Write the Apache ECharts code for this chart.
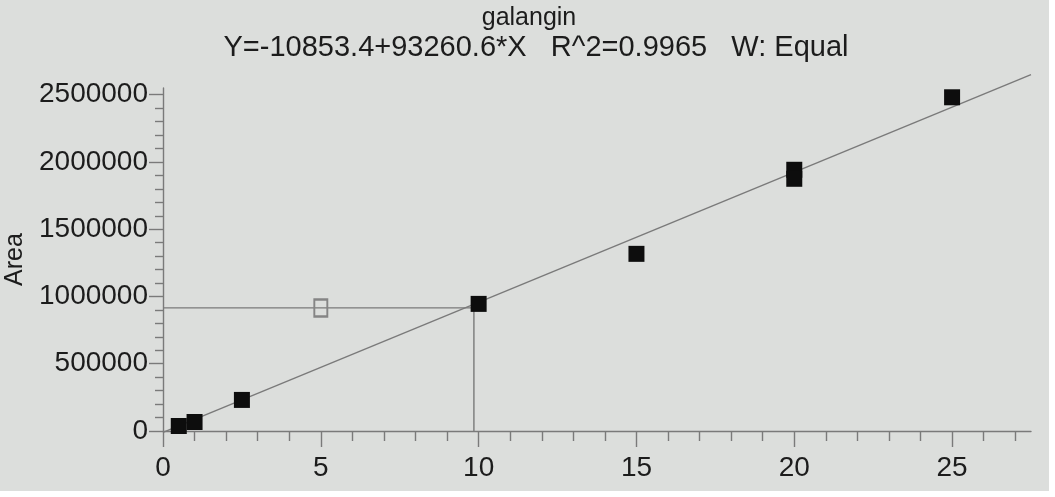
<!DOCTYPE html>
<html>
<head>
<meta charset="utf-8">
<script src="https://cdn.jsdelivr.net/npm/echarts@6/dist/echarts.min.js"></script>
<style>
  html, body { margin: 0; padding: 0; background: #ffffff; }
  #chart { position: absolute; left: 0; top: 0; width: 1049px; height: 491px; background: #dcdedc; }
</style>
</head>
<body>
<div id="chart"></div>
<script>
// ---- data ----
const chartTitle = 'galangin';
const fitText = 'Y=-10853.4+93260.6*X   R^2=0.9965   W: Equal';
const yAxisName = 'Area';

// calibration standards (amount, area)
const stdConc = [0.5, 1, 2.5, 10, 15, 20, 20, 25];
const stdArea = [37000, 67000, 231000, 945000, 1317000, 1942000, 1875000, 2481000];

// open (sample) marker
const sampleConc = [5.0];
const sampleArea = [915000];

// fitted line end points (as drawn)
const fitConc = [0, 27.5];
const fitArea = [-10853, 2649000];

// crosshair of the current sample
const crossConc = [0, 9.85, 9.85];
const crossArea = [915000, 915000, 0];

// axes ticks
const xMajorTicks = [0, 5, 10, 15, 20, 25];
const xMinorTicks = [1, 2, 3, 4, 6, 7, 8, 9, 11, 12, 13, 14, 16, 17, 18, 19, 21, 22, 23, 24, 26, 27];
const yMajorTicks = [0, 500000, 1000000, 1500000, 2000000, 2500000];
const yMinorTicks = [100000, 200000, 300000, 400000, 600000, 700000, 800000, 900000,
  1100000, 1200000, 1300000, 1400000, 1600000, 1700000, 1800000, 1900000,
  2100000, 2200000, 2300000, 2400000];

const zip = (a, b) => a.map((v, i) => [v, b[i]]);

const ink = '#1c1c1c';
const lineGray = '#7a7a7a';
const font = 'Liberation Sans, Arial, sans-serif';

const chart = echarts.init(document.getElementById('chart'), null, { renderer: 'canvas' });

const commonAxis = {
  type: 'value',
  splitLine: { show: false },
  minorTick: { show: false },
  minorSplitLine: { show: false }
};

chart.setOption({
  backgroundColor: 'transparent',
  animation: false,
  title: [
    { text: chartTitle, left: 524, top: 1, textAlign: 'center',
      textStyle: { fontFamily: font, fontSize: 25, fontWeight: 'normal', color: ink } },
    { text: fitText, left: 531, top: 28, textAlign: 'center',
      textStyle: { fontFamily: font, fontSize: 29, fontWeight: 'normal', color: ink } }
  ],
  grid: { left: 163, right: 18, top: 88, bottom: 60, containLabel: false, outerBoundsMode: 'none' },
  xAxis: [
    Object.assign({}, commonAxis, {
      min: 0, max: 27.5, interval: 5, position: 'bottom',
      axisLine: { show: true, onZero: false, lineStyle: { color: lineGray, width: 1.4 } },
      axisTick: { show: true, inside: false, length: 16, customValues: xMajorTicks,
        lineStyle: { color: lineGray, width: 1.4 } },
      axisLabel: { show: true, margin: 23, fontFamily: font, fontSize: 28, color: ink,
        customValues: xMajorTicks, formatter: v => String(v) }
    }),
    Object.assign({}, commonAxis, {
      min: 0, max: 27.5, interval: 5, position: 'bottom', offset: 0,
      axisLine: { show: false, onZero: false },
      axisTick: { show: true, inside: false, length: 10, customValues: xMinorTicks,
        lineStyle: { color: lineGray, width: 1.4 } },
      axisLabel: { show: false }
    })
  ],
  yAxis: [
    Object.assign({}, commonAxis, {
      min: 0, max: 2550000, interval: 500000, position: 'left',
      name: yAxisName, nameLocation: 'middle', nameRotate: 90, nameGap: 104,
      nameTextStyle: { fontFamily: font, fontSize: 25, color: ink },
      axisLine: { show: true, onZero: false, lineStyle: { color: lineGray, width: 1.4 } },
      axisTick: { show: true, inside: false, length: 14, customValues: yMajorTicks,
        lineStyle: { color: lineGray, width: 1.4 } },
      axisLabel: { show: true, margin: 15, fontFamily: font, fontSize: 28, color: ink,
        customValues: yMajorTicks, formatter: v => String(v) }
    }),
    Object.assign({}, commonAxis, {
      min: 0, max: 2550000, interval: 500000, position: 'left', offset: 0,
      axisLine: { show: false, onZero: false },
      axisTick: { show: true, inside: false, length: 8, customValues: yMinorTicks,
        lineStyle: { color: lineGray, width: 1.4 } },
      axisLabel: { show: false }
    })
  ],
  series: [
    {
      type: 'line', name: 'fit', data: zip(fitConc, fitArea),
      showSymbol: false, symbol: 'none', clip: false, silent: true,
      lineStyle: { color: lineGray, width: 1.4 }, z: 2
    },
    {
      type: 'line', name: 'cross', data: zip(crossConc, crossArea),
      showSymbol: false, symbol: 'none', clip: false, silent: true,
      lineStyle: { color: lineGray, width: 1.4 }, z: 2
    },
    {
      type: 'scatter', name: 'standards', data: zip(stdConc, stdArea),
      symbol: 'rect', symbolSize: [16, 16],
      itemStyle: { color: '#0d0d0d', opacity: 1 }, z: 5
    },
    {
      type: 'scatter', name: 'sample', data: zip(sampleConc, sampleArea),
      symbol: 'rect', symbolSize: [13, 17],
      itemStyle: { color: 'rgba(0,0,0,0)', borderColor: '#858585', borderWidth: 2.2, opacity: 1 }, z: 5
    }
  ]
});
</script>
</body>
</html>
